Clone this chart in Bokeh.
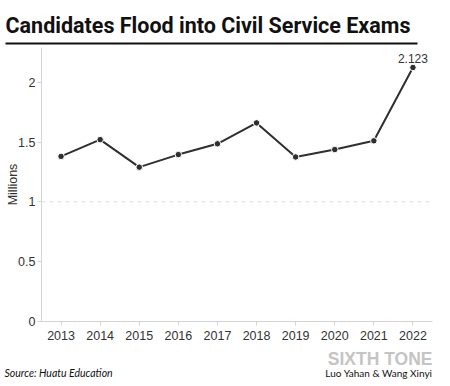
import math
from bokeh.plotting import figure
from bokeh.layouts import column
from bokeh.models import Range1d, FixedTicker, Span, Label, BoxAnnotation
from bokeh.embed import file_html
from bokeh.resources import INLINE

years = [2013, 2014, 2015, 2016, 2017, 2018, 2019, 2020, 2021, 2022]
candidates = [1.38, 1.52, 1.29, 1.395, 1.485, 1.66, 1.375, 1.437, 1.51, 2.123]
y_ticks = [0, 0.5, 1, 1.5, 2]
y_tick_labels = {0: "0", 0.5: "0.5", 1: "1", 1.5: "1.5", 2: "2"}

title_text = "Candidates Flood into Civil Service Exams"
source_text = "Source: Huatu Education"
brand_text = "SIXTH TONE"
author_text = "Luo Yahan & Wang Xinyi"
unit_text = "Millions"
last_label = "2.123"

W = 434


def blank(height):
    f = figure(width=W, height=height, output_backend="svg", toolbar_location=None,
               x_range=Range1d(0, W), y_range=Range1d(0, height),
               min_border=0, x_axis_location=None, y_axis_location=None, title=None)
    f.outline_line_color = None
    f.xgrid.visible = False
    f.ygrid.visible = False
    return f


# ---- top: title + rule
top = blank(46)
top.add_layout(Label(x=5, y=21, x_units="screen", y_units="screen", text=title_text,
                     text_font="Roboto", text_font_style="bold",
                     text_font_size="21.5px", text_color="#111111", text_baseline="alphabetic"))
top.add_layout(BoxAnnotation(left=5, right=417, bottom=2, top=4,
                             left_units="screen", right_units="screen",
                             bottom_units="screen", top_units="screen",
                             fill_color="#111111", fill_alpha=1, line_color=None))

# ---- middle: chart
p = figure(width=W, height=300, output_backend="svg", toolbar_location=None,
           x_range=Range1d(2012.5, 2022.5), y_range=Range1d(0, 2.29),
           min_border_left=41, min_border_right=2, min_border_top=1, min_border_bottom=25)
p.outline_line_color = None
p.xgrid.visible = False
p.ygrid.visible = False

for ax in (p.xaxis[0], p.yaxis[0]):
    ax.axis_line_color = "#d4d4d4"
    ax.major_tick_line_color = "#d4d4d4"
    ax.minor_tick_line_color = None
    ax.major_tick_in = 0
    ax.major_tick_out = 4
    ax.major_label_text_font = "Liberation Sans"
    ax.major_label_text_font_size = "12.5px"
    ax.major_label_text_color = "#333333"

p.xaxis[0].ticker = FixedTicker(ticks=years)
p.xaxis[0].major_label_standoff = 5
p.yaxis[0].ticker = FixedTicker(ticks=y_ticks)
p.yaxis[0].major_label_overrides = y_tick_labels
p.yaxis[0].major_label_standoff = 2
p.yaxis[0].axis_label = unit_text
p.yaxis[0].axis_label_standoff = -5
p.yaxis[0].axis_label_text_font = "Liberation Sans"
p.yaxis[0].axis_label_text_font_style = "normal"
p.yaxis[0].axis_label_text_font_size = "12.5px"
p.yaxis[0].axis_label_text_color = "#333333"

p.add_layout(Span(location=1, dimension="width", line_color="#dddddd",
                  line_dash="4 4", line_width=1))

p.line(years, candidates, line_color="#2f2f2f", line_width=2)
p.scatter(years, candidates, size=6.5, fill_color="#2f2f2f", line_color="white", line_width=1)

p.add_layout(Label(x=years[-1], y=candidates[-1], text=last_label, y_offset=4,
                   text_align="center", text_baseline="bottom",
                   text_font="Liberation Sans", text_font_size="12px", text_color="#333333"))

# ---- bottom: credits
bot = blank(40)
bot.add_layout(Label(x=432, y=28, x_units="screen", y_units="screen", text=brand_text,
                     text_align="right", text_baseline="alphabetic",
                     text_font="Liberation Sans", text_font_style="bold",
                     text_font_size="17.5px", text_color="#c4c4c4"))
bot.add_layout(Label(x=432, y=14, x_units="screen", y_units="screen", text=author_text,
                     text_align="right", text_baseline="alphabetic",
                     text_font="Lato", text_font_size="10px", text_color="#111111"))
bot.add_layout(Label(x=4, y=14, x_units="screen", y_units="screen", text=source_text,
                     text_align="left", text_baseline="alphabetic",
                     text_font="Lato", text_font_style="italic",
                     text_font_size="10.5px", text_color="#111111"))

layout = column(column(top), p, column(bot), spacing=0)
open("out.html", "w").write(file_html(layout, INLINE))
